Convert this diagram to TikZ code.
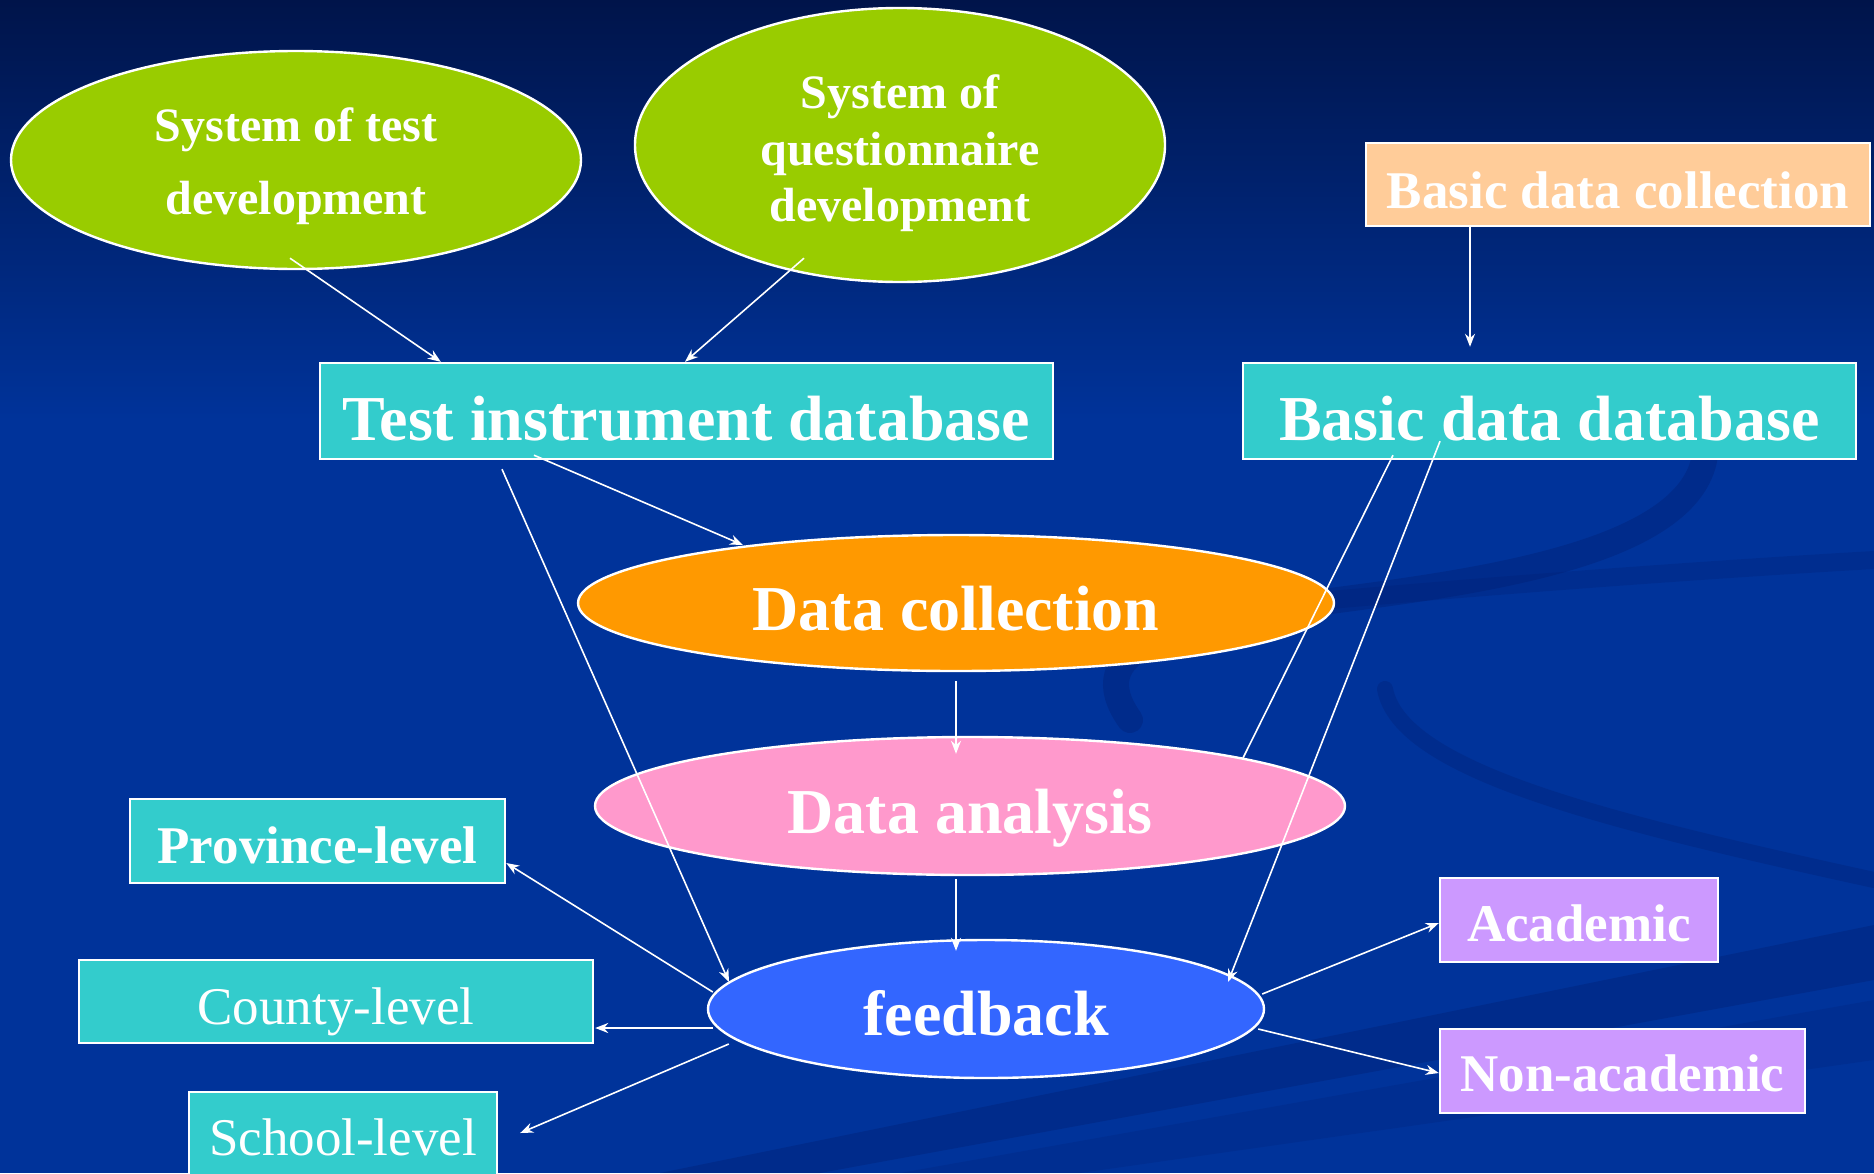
\documentclass[tikz,border=0pt]{standalone}
\usepackage{fontspec}
\setmainfont{Liberation Serif}
\usetikzlibrary{shapes.geometric,arrows.meta,calc}
\definecolor{bgtop}{HTML}{00144A}
\definecolor{bgmid}{HTML}{00339A}
\definecolor{swirl}{HTML}{001E70}
\definecolor{cgreen}{HTML}{99CC00}
\definecolor{cteal}{HTML}{33CCCC}
\definecolor{cpeach}{HTML}{FFCC99}
\definecolor{corange}{HTML}{FF9900}
\definecolor{cpink}{HTML}{FF99CC}
\definecolor{cblue}{HTML}{3366FF}
\definecolor{cpurple}{HTML}{CC99FF}
\tikzset{
  oval/.style={ellipse, draw=white, line width=1.2pt, inner sep=0pt, text=white, align=center, font=\bfseries},
  boxnode/.style={rectangle, draw=white, line width=1.2pt, inner sep=0pt, text=white, align=center, text depth=0pt},
  conn/.style={draw=white, line width=0.8pt, -{Stealth[length=6.5pt,width=5pt]}},
  plainconn/.style={draw=white, line width=0.8pt},
  bigfont/.style={font=\bfseries\fontsize{32}{36}\selectfont, text depth=0pt},
  midbold/.style={font=\bfseries\fontsize{26.5}{30}\selectfont},
  midreg/.style={font=\fontsize{26.5}{30}\selectfont},
}
\begin{document}
\begin{tikzpicture}[x=0.5pt,y=-0.5pt]
\useasboundingbox (0,0) rectangle (1874,1173);
% background
\fill[bgmid] (0,0) rectangle (1874,1173);
\shade[top color=bgtop, bottom color=bgmid] (0,0) rectangle (1874,420);
% swirls
\begin{scope}[draw=swirl, fill=swirl, line cap=round]
\draw[line width=13pt, opacity=0.35] (1705,455) .. controls (1690,560) and (1450,585) .. (1300,605) .. controls (1170,625) and (1080,650) .. (1130,720);
\draw[line width=9pt, opacity=0.25] (1330,600) .. controls (1500,585) and (1700,570) .. (1874,560);
\draw[line width=8pt, opacity=0.3] (1385,689) .. controls (1400,770) and (1600,820) .. (1874,880);
\fill[opacity=0.35] (660,1173) -- (1874,925) -- (1874,980) -- (820,1173) -- cycle;
\fill[opacity=0.2] (900,1173) -- (1874,1000) -- (1874,1060) -- (1080,1173) -- cycle;
\end{scope}
% nodes
\node[oval, fill=cgreen, minimum width=285pt, minimum height=109pt, font=\bfseries\fontsize{24}{36.5}\selectfont] (e1) at (296,160) {\rule{0pt}{23.5pt}System of test\\development};
\node[oval, fill=cgreen, minimum width=265pt, minimum height=137pt, font=\bfseries\fontsize{24}{28.3}\selectfont] (e2) at (900,145) {\rule{0pt}{25.5pt}System of\\questionnaire\\development};
\node[boxnode, fill=cpeach, minimum width=252pt, minimum height=41.5pt, midbold, text height=23.5pt] (bc) at (1618,184.5) {Basic data collection};
\node[boxnode, fill=cteal, minimum width=366.5pt, minimum height=48pt, bigfont, text height=29pt] (t) at (686.5,411) {Test instrument database};
\node[boxnode, fill=cteal, minimum width=306.5pt, minimum height=48pt, bigfont, text height=29pt] (bd) at (1549.5,411) {Basic data database};
\node[oval, fill=corange, minimum width=378pt, minimum height=68pt, bigfont, text height=27pt] (dc) at (956,603) {Data collection};
\node[oval, fill=cpink, minimum width=375pt, minimum height=69pt, bigfont, text height=27pt] (da) at (970,806) {Data analysis};
\node[oval, fill=cblue, minimum width=278pt, minimum height=69pt, bigfont, text height=26pt] (fb) at (986,1009) {feedback};
\node[boxnode, fill=cteal, minimum width=187.5pt, minimum height=42pt, midbold, text height=22pt] (pv) at (317.5,841) {Province-level};
\node[boxnode, fill=cteal, minimum width=257pt, minimum height=41.5pt, midreg, text height=22.5pt] (cy) at (336,1001.5) {County-level};
\node[boxnode, fill=cteal, minimum width=154pt, minimum height=50pt, midreg, text height=13pt, anchor=north] (sc) at (343,1091) {School-level};
\node[boxnode, fill=cpurple, minimum width=139pt, minimum height=42pt, midbold, text height=21pt] (ac) at (1579,920) {Academic};
\node[boxnode, fill=cpurple, minimum width=182.5pt, minimum height=42pt, midbold, text height=20pt] (na) at (1622.5,1071) {Non-academic};
% connectors
\draw[conn] ($(e1.south)+(-6,-12)$) -- ($(t.north west)+(122,0)$);
\draw[conn] ($(e2.south)+(-96,-25)$) -- ($(t.north)+(-1.5,0)$);
\draw[conn] ($(bc.south)+(-148,-2)$) -- ($(bd.north)+(-79.5,-15)$);
\draw[conn] ($(t.south)+(-152.5,-5)$) -- ($(dc.center)+(-213,-58)$);
\draw[conn] ($(t.south)+(-184.5,9)$) -- ($(fb.center)+(-257,-27)$);
\draw[plainconn] ($(bd.south)+(-156.5,-5)$) -- ($(da.center)+(273,-48)$);
\draw[conn] ($(bd.south)+(-109.5,-19)$) -- ($(fb.center)+(242,-27)$);
\draw[conn] ($(dc.south)+(0,9)$) -- ($(da.north)+(-14,18)$);
\draw[conn] ($(da.south)+(-14,3)$) -- ($(fb.north)+(-30,12)$);
\draw[conn] ($(fb.west)+(6,-17)$) -- ($(pv.east)+(0,22)$);
\draw[conn, line width=1.4pt] ($(fb.west)+(6,19)$) -- ($(cy.east)+(1,26.5)$);
\draw[conn] ($(fb.west)+(22,35)$) -- ($(sc.north east)+(22,42)$);
\draw[conn] ($(fb.east)+(-3,-15)$) -- ($(ac.west)+(0,3)$);
\draw[conn] ($(fb.east)+(-7,20)$) -- ($(na.west)+(0,2)$);
\end{tikzpicture}
\end{document}
